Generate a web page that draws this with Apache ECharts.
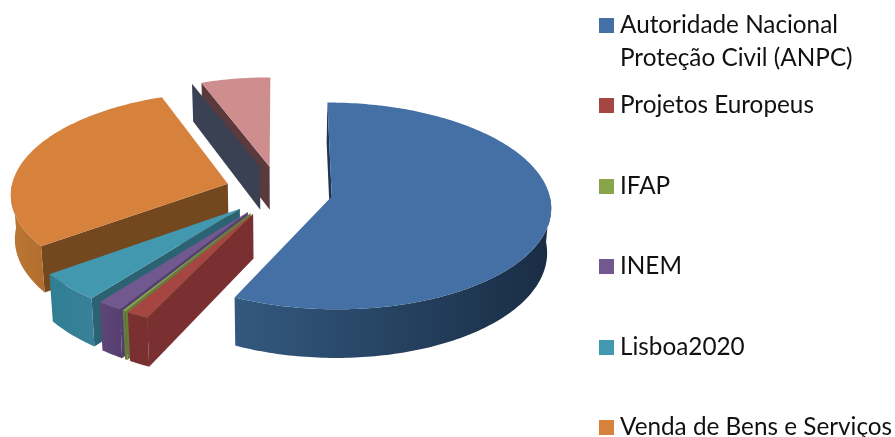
<!DOCTYPE html>
<html><head><meta charset="utf-8">
<script src="https://cdn.jsdelivr.net/npm/echarts@6/dist/echarts.min.js"></script>
<style>html,body{margin:0;padding:0;background:#fff}#c{width:895px;height:437px}</style>
</head><body><div id="c"></div>
<script>
const categories = ['Autoridade Nacional\nProteção Civil (ANPC)','Projetos Europeus','IFAP','INEM','Lisboa2020','Venda de Bens e Serviços','Outros'];
const values = [57.0, 1.5, 0.2, 1.7, 4.5, 29.3, 5.7];
const topColors = ['#4470a6','#a64643','#88a54b','#71588f','#4198af','#d7823c','#ce8e8e'];
const edgeColors = ['#1f3550','#7a3030','#667c38','#543f70','#2b6373','#74481e','#5a3a3c'];
const wallLeft = ['#33597f','#7a3030','#667c38','#5f4679','#2f7f93','#bb7734','#9a6a6a'];
const wallRight = ['#192c44','#7a3030','#667c38','#563e6f','#3a8098','#b26d2e','#9a6a6a'];
const legendTops = [-25, 88, 169, 249, 330, 410];

const cx = 279, cy = 191, R = 217, tilt = 0.468, persp = 0.09, explode = 0.248, depth = 44, shrink = 0.015;
const total = values.reduce((a, b) => a + b, 0);
function P(a, mid, z) {
  const u = Math.sin(a) + explode * Math.sin(mid);
  const v = -Math.cos(a) - explode * Math.cos(mid);
  return proj(u, v, z);
}
function proj(u, v, z) {
  const s = 1 / (1 - persp * v);
  return [cx + R * u * s * (1 - shrink * z), cy + R * tilt * v * s + depth * z * s];
}
function apex(mid, z) { return proj(explode * Math.sin(mid), -explode * Math.cos(mid), z); }

function slice(idx) {
  return function (params, api) {
    const val = api.value(0);
    let before = 0;
    for (let i = 0; i < idx; i++) before += values[i];
    const a0 = before / total * 2 * Math.PI, a1 = (before + val) / total * 2 * Math.PI, mid = (a0 + a1) / 2;
    const steps = Math.max(2, Math.ceil((a1 - a0) / (Math.PI / 180)));
    const arc = [], arcB = [];
    for (let i = 0; i <= steps; i++) {
      const a = a0 + (a1 - a0) * i / steps;
      arc.push(P(a, mid, 0)); arcB.push(P(a, mid, 1));
    }
    const A = apex(mid, 0), AB = apex(mid, 1);
    const children = [];
    const poly = (pts, fill) => children.push({type: 'polygon', shape: {points: pts}, style: {fill: fill, stroke: null}, silent: true});
    if (idx === values.length - 1) {
      const o = 9.5;
      const s0 = arc[0], s0B = arcB[0];
      poly([s0, A, AB, s0B], edgeColors[idx]);
      poly([[s0[0] - o, s0[1] + 1], [A[0] - o, A[1]], [AB[0] - o, AB[1]], [s0B[0] - o, s0B[1] - 1]], '#3a4153');
    } else {
      if (arc[0][0] < A[0]) poly([A, arc[0], arcB[0], AB], edgeColors[idx]);
    }
    const top = [], bot = [];
    for (let i = 0; i < arc.length; i++) {
      const a = a0 + (a1 - a0) * i / steps;
      if (a >= Math.PI / 2 && a <= 1.5 * Math.PI) { top.push(arc[i]); bot.push(arcB[i]); }
    }
    if (top.length > 1) {
      const grad = new echarts.graphic.LinearGradient(0, 0, 1, 0, [
        {offset: 0, color: wallLeft[idx]}, {offset: 1, color: wallRight[idx]}]);
      poly(top.concat(bot.slice().reverse()), grad);
    }
    poly([A].concat(arc), topColors[idx]);
    return {type: 'group', children: children};
  };
}

const order = [6, 5, 0, 4, 3, 2, 1];
const series = order.map((idx, z) => ({
  type: 'custom', name: categories[idx], coordinateSystem: 'none', silent: true, z: 2 + z,
  itemStyle: {color: topColors[idx]}, renderItem: slice(idx), data: [[values[idx]]], animation: false
}));
const legend = legendTops.map((t, i) => ({
  data: [categories[i]], orient: 'vertical', left: 599, top: t, icon: 'rect', itemWidth: 15, itemHeight: 15,
  itemGap: 0, selectedMode: false, padding: 0,
  formatter: n => n.includes('\n') ? '\n' + n : n,
  textStyle: {fontFamily: 'Lato', fontSize: 24.3, color: '#111', lineHeight: 33, padding: [2, 0, 0, 1]}
}));
const chart = echarts.init(document.getElementById('c'), null, {renderer: 'canvas'});
chart.setOption({backgroundColor: '#fff', animation: false, legend: legend, series: series});
</script></body></html>
